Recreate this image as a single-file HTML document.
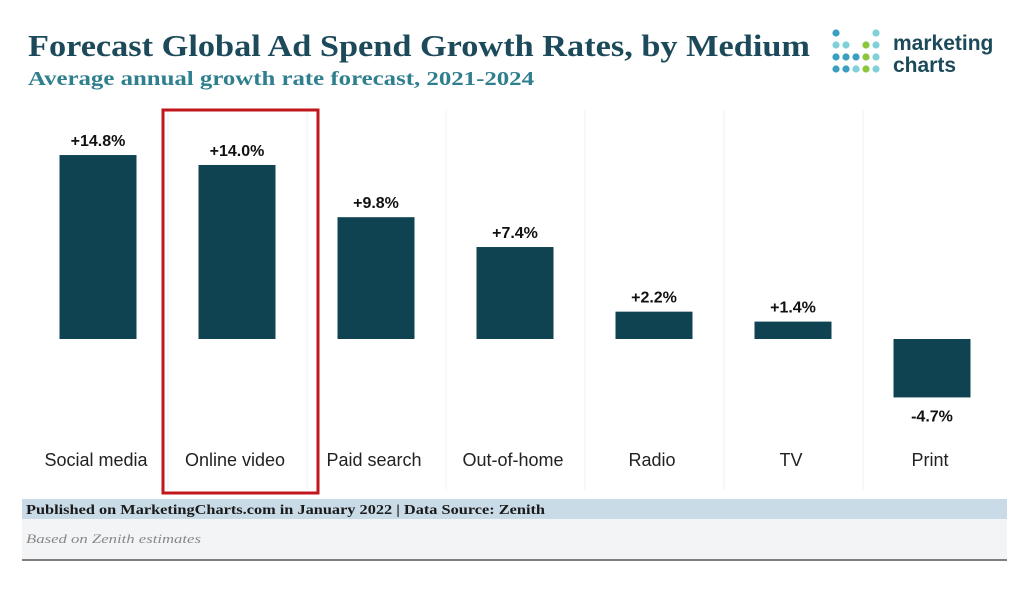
<!DOCTYPE html>
<html><head><meta charset="utf-8"><style>
body{margin:0;width:1024px;height:588px;background:#fff;overflow:hidden;font-family:"Liberation Serif",serif;}
</style></head><body>
<svg width="1024" height="588" id="svg">
<text x="28" y="56" font-family="Liberation Serif" font-weight="bold" font-size="31" fill="#1d4a5a" textLength="782" lengthAdjust="spacingAndGlyphs">Forecast Global Ad Spend Growth Rates, by Medium</text>
<text x="28" y="85" font-family="Liberation Serif" font-weight="bold" font-size="20" fill="#2f7f8f" textLength="506" lengthAdjust="spacingAndGlyphs">Average annual growth rate forecast, 2021-2024</text>
<g id="logo"></g>
<text x="893" y="50" font-family="Liberation Sans" font-weight="bold" font-size="21" fill="#1d4a5a">marketing</text>
<text x="893" y="72" font-family="Liberation Sans" font-weight="bold" font-size="21" fill="#1d4a5a">charts</text>
<g id="plot"></g>
<rect x="163" y="110" width="155" height="383" fill="none" stroke="#c0161c" stroke-width="3"/>
<rect x="22" y="499" width="985" height="20" fill="#c9dbe6"/>
<text x="26" y="514" font-family="Liberation Serif" font-weight="bold" font-size="14" fill="#1a1a1a" textLength="519" lengthAdjust="spacingAndGlyphs">Published on MarketingCharts.com in January 2022 | Data Source: Zenith</text>
<rect x="22" y="519" width="985" height="40" fill="#f3f4f6"/>
<text x="26" y="543" font-family="Liberation Serif" font-style="italic" font-size="13" fill="#888" textLength="175" lengthAdjust="spacingAndGlyphs">Based on Zenith estimates</text>
<line x1="22" y1="560" x2="1007" y2="560" stroke="#555" stroke-width="1.5"/>
</svg>
<script>
const categories=["Social media","Online video","Paid search","Out-of-home","Radio","TV","Print"];
const values=[14.8,14.0,9.8,7.4,2.2,1.4,-4.7];
const valueLabels=["+14.8%","+14.0%","+9.8%","+7.4%","+2.2%","+1.4%","-4.7%"];
const NS="http://www.w3.org/2000/svg";
const plot=document.getElementById('plot');
const baseY=339, pxPerUnit=12.43, step=139, x0=98, barW=77;
const xc=i=>x0+i*step;
const y=v=>baseY-v*pxPerUnit;
function mk(tag,attrs,parent){const e=document.createElementNS(NS,tag);for(const k in attrs)e.setAttribute(k,attrs[k]);(parent||plot).appendChild(e);return e;}
for(let i=0;i<categories.length-1;i++){
  const l=mk('line',{x1:xc(i)+70,x2:xc(i)+70,y1:110,y2:490,stroke:'#f2f2f2','stroke-width':1});
  
  
}
categories.forEach((c,i)=>{
  const v=values[i];
  const r=mk('rect',{x:xc(i)-barW/2,y:Math.min(y(v),baseY),width:barW,height:Math.abs(y(v)-baseY),fill:'#0f4352'});
  
  
  const t=mk('text',{x:xc(i),y:v>=0?y(v)-9:y(v)+24,'text-anchor':'middle','font-family':'Liberation Sans','font-weight':'bold','font-size':16,fill:'#111'});
  t.textContent=valueLabels[i];
  
  
  const cl=mk('text',{x:xc(i)-2,y:466,'text-anchor':'middle','font-family':'Liberation Sans','font-size':18,fill:'#222'});
  cl.textContent=c;
  
  
});
const logo=document.getElementById('logo');
const cols=[["#3a9fc0","#7fd0d8","#3a9fc0","#3a9fc0"],[null,"#7fd0d8","#3a9fc0","#3a9fc0"],[null,null,"#3a9fc0","#7fd0d8"],[null,"#8cc63f","#8cc63f","#8cc63f"],["#7fd0d8","#7fd0d8","#7fd0d8","#7fd0d8"]];
cols.forEach((col,ci)=>col.forEach((c,ri)=>{if(!c)return;
  const d=mk('circle',{cx:836+ci*10,cy:33+ri*12,r:3.6,fill:c},logo);
  
  
}));
</script>
</body></html>
